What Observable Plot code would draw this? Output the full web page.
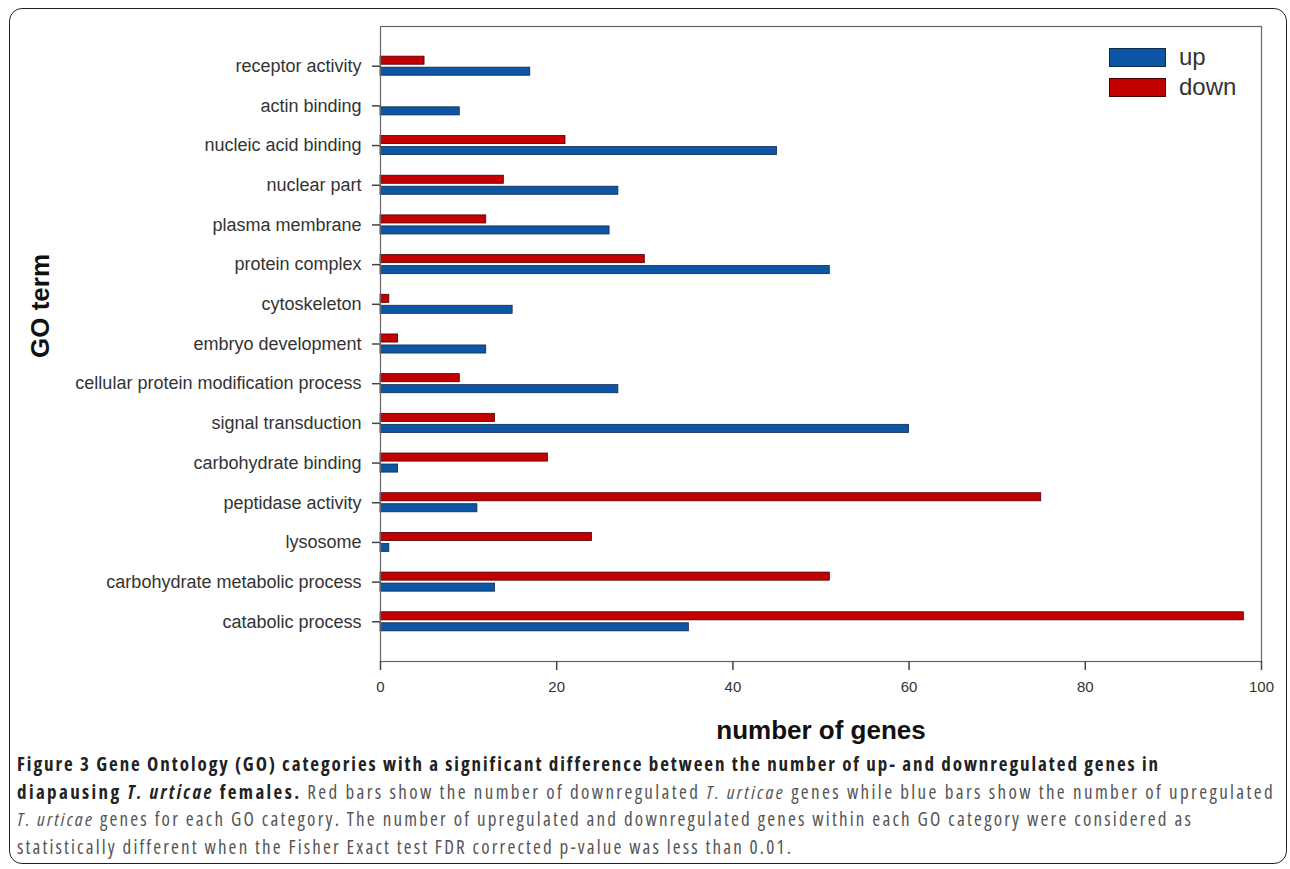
<!DOCTYPE html>
<html>
<head>
<meta charset="utf-8">
<script src="https://cdn.jsdelivr.net/npm/d3@7"></script>
<script src="https://cdn.jsdelivr.net/npm/@observablehq/plot@0.6"></script>
<style>
  html, body { margin: 0; padding: 0; background: #fff; }
  #wrap { position: relative; width: 1290px; height: 869px; overflow: hidden; background: #fff; }
  #border { position: absolute; left: 9px; top: 8px; width: 1276px; height: 854px; border: 1.5px solid #222; border-radius: 13px; }
  #chart { position: absolute; left: 0; top: 0; }
  #chart svg { font-family: "Liberation Sans", Arial, sans-serif; }
  #legend { position: absolute; left: 1109px; top: 42px; font-family: "Liberation Sans", Arial, sans-serif; font-size: 24px; color: #333; }
  .lg { display: flex; align-items: center; height: 30px; }
  .sw { width: 57px; height: 19px; margin-right: 13px; box-sizing: border-box; border: 1px solid #333; }
  #caption { position: absolute; left: 17px; top: 751px; font-family: "Open Sans", "Noto Sans", sans-serif; font-size: 17px; line-height: 27.7px; color: #555; white-space: nowrap; font-stretch: 87.5%; }
  #caption b { color: #222; }
  .ln { display: block; height: 27.7px; }
</style>
</head>
<body>
<div id="wrap">
  <div id="border"></div>
  <div id="chart"></div>
  <div id="legend"></div>
  <div id="caption">
    <span class="ln" id="l1"><b>Figure 3 Gene Ontology (GO) categories with a significant difference between the number of up- and downregulated genes in</b></span>
    <span class="ln" id="l2"><b>diapausing <i>T. urticae</i> females.</b> Red bars show the number of downregulated <i>T. urticae</i> genes while blue bars show the number of upregulated</span>
    <span class="ln" id="l3"><i>T. urticae</i> genes for each GO category. The number of upregulated and downregulated genes within each GO category were considered as</span>
    <span class="ln" id="l4">statistically different when the Fisher Exact test FDR corrected p-value was less than 0.01.</span>
  </div>
</div>
<script>
const categories = [
  "receptor activity",
  "actin binding",
  "nucleic acid binding",
  "nuclear part",
  "plasma membrane",
  "protein complex",
  "cytoskeleton",
  "embryo development",
  "cellular protein modification process",
  "signal transduction",
  "carbohydrate binding",
  "peptidase activity",
  "lysosome",
  "carbohydrate metabolic process",
  "catabolic process"
];
const upValues   = [17, 9, 45, 27, 26, 51, 15, 12, 27, 60, 2, 11, 1, 13, 35];
const downValues = [5, 0, 21, 14, 12, 30, 1, 2, 9, 13, 19, 75, 24, 51, 98];
const xTicks = [0, 20, 40, 60, 80, 100];
const seriesNames = ["up", "down"];
const seriesColors = ["#0d56a6", "#c30000"];
const seriesStroke = ["#102a4a", "#4a0000"];

const upData = categories.map((c, i) => ({category: c, value: upValues[i]}));
const downData = categories.map((c, i) => ({category: c, value: downValues[i]})).filter(d => d.value > 0);

const barInset = 15.8;

const plot = Plot.plot({
  width: 1290,
  height: 745,
  marginLeft: 380,
  marginRight: 29,
  marginTop: 26,
  marginBottom: 84,
  style: {fontFamily: "Liberation Sans, Arial, sans-serif", color: "#333", background: "transparent"},
  x: {domain: [0, 100], ticks: xTicks, label: null},
  y: {domain: categories, paddingInner: 0, paddingOuter: 0.5, round: false, label: null},
  marks: [
    Plot.barX(downData, {x: "value", y: "category", fill: seriesColors[1], stroke: seriesStroke[1], strokeWidth: 0.8, insetTop: barInset, insetBottom: barInset, dy: -5.5}),
    Plot.barX(upData, {x: "value", y: "category", fill: seriesColors[0], stroke: seriesStroke[0], strokeWidth: 0.8, insetTop: barInset, insetBottom: barInset, dy: 5.5}),
    Plot.frame({stroke: "#666", strokeWidth: 1.2}),
    Plot.axisX({ticks: xTicks, tickSize: 9, tickPadding: 11, fontSize: 15, stroke: "#444", strokeWidth: 1.5, label: null}),
    Plot.axisY({tickSize: 8, tickPadding: 11, fontSize: 18, stroke: "#444", strokeWidth: 1.5, label: null}),
    Plot.text(["number of genes"], {frameAnchor: "bottom", text: d => d, dy: 77, fontSize: 26, fontWeight: "bold", fill: "#111"}),
    Plot.text(["GO term"], {frameAnchor: "left", text: d => d, textAnchor: "middle", rotate: -90, dx: -340, dy: -38, fontSize: 26, fontWeight: "bold", fill: "#111"})
  ]
});
document.getElementById("chart").appendChild(plot);

const legend = document.getElementById("legend");
seriesNames.forEach((s, i) => {
  const row = document.createElement("div");
  row.className = "lg";
  row.innerHTML = `<span class="sw" style="background:${seriesColors[i]};border-color:${seriesStroke[i]}"></span><span>${s}</span>`;
  legend.appendChild(row);
});

// caption: one font size fitted to the last line, then light letter-spacing tweaks per line
function widthOf(el) {
  el.style.display = "inline-block";
  const w = el.getBoundingClientRect().width;
  el.style.display = "block";
  return w;
}
const cap = document.getElementById("caption");
const l4 = document.getElementById("l4");
cap.style.fontSize = Math.min(19, 17 * 776 / widthOf(l4)) + "px";
const targets = {l1: 1143, l2: 1258, l3: 1176, l4: 776};
Object.entries(targets).forEach(([id, t]) => {
  const el = document.getElementById(id);
  const w = widthOf(el);
  const n = el.textContent.trim().length;
  el.style.letterSpacing = ((t - w) / n) + "px";
});
</script>
</body>
</html>
